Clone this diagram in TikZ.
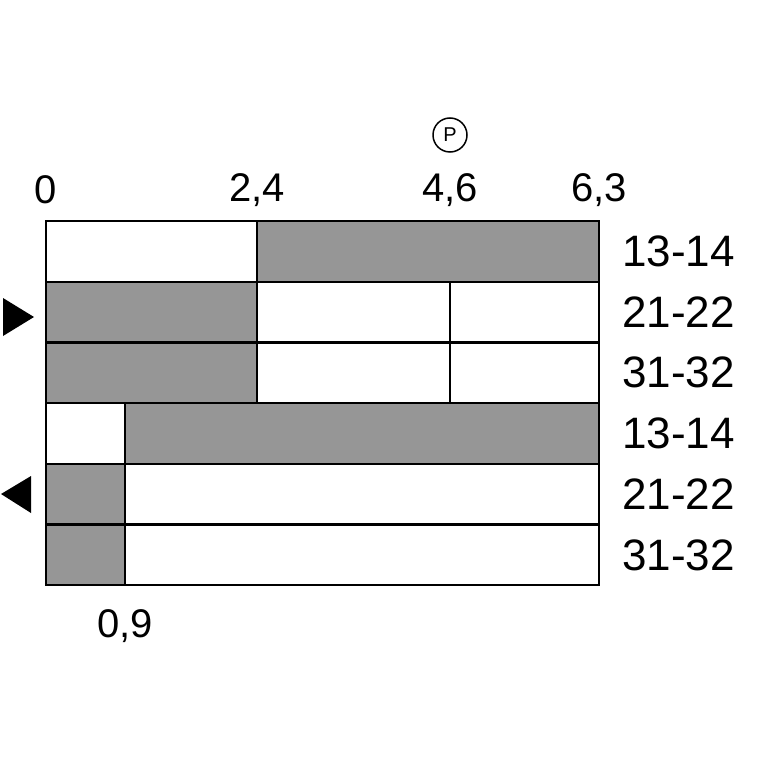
\documentclass[tikz,border=0pt]{standalone}
\usepackage{fontspec}
\setmainfont{Liberation Sans}
\usetikzlibrary{calc}
\definecolor{camgray}{RGB}{150,150,150}
\tikzset{
    cellon/.style= {draw=black,line width=2.2pt,fill=camgray},
    celloff/.style= {draw=black,line width=2.2pt,fill=white},
    pinlabel/.style= {font=\fontsize{44}{44}\selectfont,anchor=west,inner sep=0},
    anglabel/.style= {font=\fontsize{40}{40}\selectfont,inner sep=0}
}
\begin{document}
\begin{tikzpicture}[x=1pt,y=-1pt]
    \useasboundingbox (0,0) rectangle (767,767);
    % columns: 0 -> 46, 0.9 -> 125, 2.4 -> 257, 4.6 -> 450, 6.3 -> 599

    % rows 1..6
    \foreach \r/\xa/\xb/\sa/\sb in {1/46/257/celloff/cellon, 4/46/125/celloff/cellon,
                                    5/46/125/cellon/celloff, 6/46/125/cellon/celloff} {
        \pgfmathsetmacro{\yt}{221+(\r-1)*60.7}
        \pgfmathsetmacro{\yb}{221+\r*60.7}
        \draw[\sa] (\xa,\yt) rectangle (\xb,\yb);
        \draw[\sb] (\xb,\yt) rectangle (599,\yb);
    }
    \foreach \r in {2,3} {
        \pgfmathsetmacro{\yt}{221+(\r-1)*60.7}
        \pgfmathsetmacro{\yb}{221+\r*60.7}
        \draw[cellon] (46,\yt) rectangle (257,\yb);
        \draw[celloff] (257,\yt) rectangle (450,\yb);
        \draw[celloff] (450,\yt) rectangle (599,\yb);
    }

    % contact labels
    \foreach \r/\lbl in {1/13-14,2/21-22,3/31-32,4/13-14,5/21-22,6/31-32}
        \node[pinlabel] (p\r) at (622,{221+(\r-0.5)*60.7}) {\lbl};

    % angle labels
    \node[anglabel] (a0) at (46,190) {0};
    \node[anglabel] (a24) at (257,190) {2,4};
    \node[anglabel] (a46) at (450,190) {4,6};
    \node[anglabel] (a63) at (599,190) {6,3};
    \node[anglabel] (a09) at (125,626) {0,9};

    % position mark
    \node[circle,draw,line width=1.5pt,minimum size=34pt,inner sep=0,
          font=\fontsize{20}{20}\selectfont] (pmark) at (450,135) {P};

    % direction marks
    \fill[black] (3,298) -- (34,317) -- (3,336) -- cycle;
    \fill[black] (31,476) -- (1,494) -- (31,513) -- cycle;
\end{tikzpicture}
\end{document}
